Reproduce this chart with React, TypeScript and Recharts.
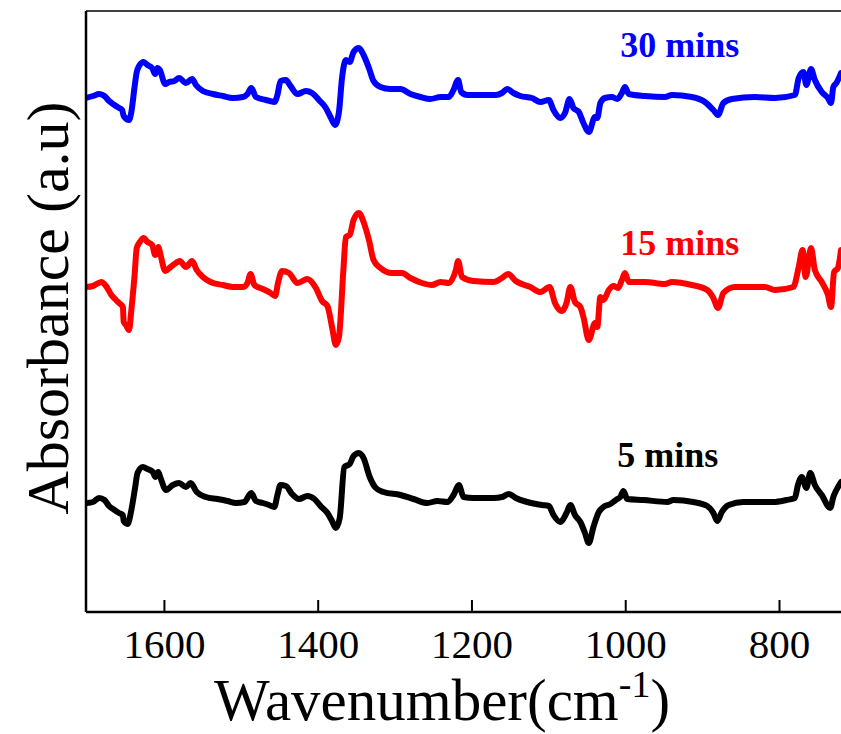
import React from 'react';
import { LineChart, Line, XAxis, YAxis, ReferenceLine, ReferenceDot } from 'recharts';

const FONT = "'Liberation Serif', 'Times New Roman', serif";

// 30 min spectrum (blue)
const wn30 = [1702,1693,1685,1678,1672,1665,1659,1655,1653,1646,1643,1639,1636,1633,1627,1622,1616,1612,1609,1606,1599,1594,1587,1581,1572,1564,1559,1550,1537,1524,1511,1498,1492,1487,1481,1468,1457,1453,1449,1442,1436,1427,1416,1408,1399,1390,1384,1378,1373,1369,1364,1359,1354,1347,1341,1334,1328,1319,1306,1293,1280,1267,1254,1241,1230,1224,1218,1214,1206,1189,1169,1161,1154,1146,1137,1122,1111,1100,1094,1085,1079,1073,1068,1061,1055,1048,1040,1037,1033,1027,1018,1011,1005,1001,996,975,949,940,914,897,886,880,873,862,832,806,780,775,769,765,759,754,745,737,733,730,726,720];
const abs30 = [5.14,5.16,5.18,5.16,5.11,5.07,5.04,5.02,4.96,4.92,5.00,5.24,5.40,5.46,5.50,5.47,5.44,5.38,5.44,5.42,5.28,5.30,5.31,5.34,5.29,5.33,5.27,5.21,5.18,5.16,5.14,5.15,5.18,5.24,5.15,5.12,5.10,5.17,5.31,5.32,5.26,5.18,5.21,5.19,5.12,5.04,4.95,4.87,5.00,5.34,5.52,5.50,5.60,5.64,5.57,5.44,5.31,5.25,5.23,5.23,5.18,5.15,5.13,5.15,5.15,5.22,5.32,5.20,5.17,5.17,5.17,5.19,5.23,5.19,5.16,5.14,5.10,5.12,5.02,4.94,4.99,5.13,5.04,5.00,4.89,4.80,4.95,4.94,5.09,5.14,5.15,5.13,5.19,5.25,5.18,5.16,5.15,5.17,5.15,5.10,5.02,4.97,5.09,5.13,5.15,5.14,5.17,5.34,5.40,5.27,5.43,5.32,5.20,5.14,5.09,5.25,5.29,5.39];

// 15 min spectrum (red)
const wn15 = [1702,1693,1682,1676,1669,1663,1659,1654,1653,1650,1646,1643,1639,1636,1632,1627,1622,1616,1612,1608,1605,1599,1592,1585,1580,1572,1564,1558,1550,1540,1524,1511,1498,1492,1488,1483,1472,1462,1456,1452,1447,1438,1427,1414,1403,1395,1388,1382,1377,1373,1367,1364,1359,1354,1347,1341,1334,1328,1319,1304,1291,1280,1265,1252,1241,1230,1221,1218,1213,1198,1172,1161,1153,1143,1124,1111,1099,1092,1083,1077,1072,1066,1059,1055,1048,1040,1037,1033,1029,1022,1016,1010,1005,1001,996,975,949,940,914,894,886,880,873,858,819,806,782,775,770,766,759,754,745,737,733,729,724,720];
const abs15 = [3.25,3.26,3.30,3.26,3.17,3.12,3.09,3.05,2.90,2.87,2.82,3.02,3.35,3.64,3.70,3.74,3.70,3.67,3.57,3.65,3.57,3.41,3.45,3.49,3.51,3.45,3.51,3.42,3.35,3.30,3.27,3.25,3.25,3.29,3.38,3.27,3.23,3.19,3.16,3.30,3.41,3.39,3.29,3.33,3.24,3.11,3.06,2.85,2.67,2.75,3.45,3.75,3.77,3.92,3.99,3.90,3.72,3.52,3.44,3.39,3.39,3.34,3.29,3.27,3.30,3.29,3.42,3.51,3.35,3.31,3.30,3.34,3.38,3.31,3.25,3.20,3.25,3.09,3.01,3.09,3.25,3.10,3.05,2.95,2.72,2.89,2.85,3.15,3.12,3.22,3.26,3.24,3.32,3.39,3.30,3.30,3.28,3.30,3.27,3.22,3.14,3.04,3.19,3.25,3.25,3.22,3.25,3.45,3.62,3.35,3.64,3.42,3.30,3.17,3.05,3.40,3.44,3.62];

// 5 min spectrum (black)
const wn5 = [1701,1693,1685,1678,1672,1665,1659,1654,1653,1648,1643,1638,1635,1628,1622,1615,1612,1608,1605,1598,1589,1581,1572,1566,1558,1546,1531,1518,1507,1496,1487,1481,1472,1464,1457,1453,1449,1442,1434,1425,1414,1405,1397,1388,1382,1377,1372,1366,1359,1354,1347,1341,1333,1325,1315,1293,1276,1258,1245,1232,1224,1217,1211,1198,1172,1161,1152,1143,1128,1109,1100,1094,1085,1077,1072,1066,1059,1053,1048,1042,1035,1029,1020,1011,1007,1003,998,977,946,938,912,894,886,881,875,866,847,808,791,780,776,771,765,760,754,745,734,730,726,720];
const abs5 = [1.09,1.10,1.14,1.12,1.06,1.02,0.99,0.97,0.91,0.88,1.02,1.25,1.39,1.45,1.43,1.40,1.35,1.40,1.34,1.22,1.27,1.29,1.25,1.29,1.20,1.15,1.13,1.11,1.09,1.10,1.19,1.11,1.09,1.07,1.05,1.17,1.27,1.26,1.18,1.13,1.16,1.13,1.06,0.99,0.91,0.84,0.94,1.45,1.48,1.56,1.59,1.54,1.35,1.24,1.20,1.17,1.13,1.09,1.11,1.10,1.17,1.27,1.15,1.14,1.14,1.15,1.18,1.14,1.10,1.07,1.06,0.97,0.90,0.99,1.07,0.97,0.90,0.79,0.69,0.85,1.00,1.05,1.08,1.13,1.15,1.21,1.13,1.12,1.10,1.12,1.10,1.06,0.99,0.91,1.00,1.07,1.10,1.10,1.12,1.14,1.27,1.35,1.24,1.39,1.27,1.17,1.04,1.15,1.22,1.30];

const xTicks = [1600, 1400, 1200, 1000, 800];
const seriesNames = ['30 mins', '15 mins', '5 mins'];
const seriesColors = ['#0000ff', '#ff0000', '#000000'];

const toPoints = (xs: number[], ys: number[]) => xs.map((wn, i) => ({ wn, abs: ys[i] }));

const series = [
    { data: toPoints(wn30, abs30), labelAt: { wn: 1007, abs: 5.55 } },
    { data: toPoints(wn15, abs15), labelAt: { wn: 1007, abs: 3.57 } },
    { data: toPoints(wn5, abs5), labelAt: { wn: 1011, abs: 1.45 } },
];

const WnTick = (props: any) => {
    const { x, y, payload } = props;
    return (
        <g>
            <line x1={x} x2={x} y1={y} y2={y - 12} stroke="#000" strokeWidth={2} />
            <text x={x} y={y + 46} textAnchor="middle" fontFamily={FONT} fontSize={41} fill="#000">
                {payload.value}
            </text>
        </g>
    );
};

export default function App() {
    return (
        <div style={{ position: 'absolute', left: 0, top: 0, width: 841, height: 734, background: '#fff' }}>
            <LineChart width={841} height={734} margin={{ top: 11, right: 0, bottom: 0, left: 0 }}>
                <XAxis
                    dataKey="wn"
                    type="number"
                    domain={[720, 1702]}
                    reversed
                    allowDataOverflow
                    ticks={xTicks}
                    height={122}
                    tickSize={0}
                    tickMargin={0}
                    tickLine={false}
                    axisLine={{ stroke: '#000', strokeWidth: 2.5 }}
                    tick={<WnTick />}
                    label={{
                        content: () => (
                            <text x={442} y={720} textAnchor="middle" fontFamily={FONT} fontSize={59} fill="#000">
                                <tspan>Wavenumber(cm</tspan>
                                <tspan dy={-23} fontSize={38}>-1</tspan>
                                <tspan dy={23}>)</tspan>
                            </text>
                        ),
                    }}
                />
                <YAxis
                    type="number"
                    domain={[0, 6.01]}
                    allowDataOverflow
                    width={86}
                    tick={false}
                    tickLine={false}
                    axisLine={{ stroke: '#000', strokeWidth: 2.5 }}
                    label={{
                        content: () => (
                            <text
                                transform="translate(68,308) rotate(-90)"
                                textAnchor="middle"
                                fontFamily={FONT}
                                fontSize={60}
                                fill="#000"
                            >
                                Absorbance (a.u)
                            </text>
                        ),
                    }}
                />
                <ReferenceLine y={6.01} stroke="#000" strokeWidth={1.5} />
                {series.map((s, i) => (
                    <Line
                        key={seriesNames[i]}
                        data={s.data}
                        dataKey="abs"
                        type="monotone"
                        stroke={seriesColors[i]}
                        strokeWidth={6}
                        strokeLinejoin="round"
                        strokeLinecap="round"
                        dot={false}
                        isAnimationActive={false}
                    />
                ))}
                {series.map((s, i) => (
                    <ReferenceDot
                        key={'lbl' + i}
                        x={s.labelAt.wn}
                        y={s.labelAt.abs}
                        r={0}
                        shape={(p: any) => (
                            <text x={p.cx} y={p.cy} fontFamily={FONT} fontSize={36} fontWeight="bold" fill={seriesColors[i]}>
                                {seriesNames[i]}
                            </text>
                        )}
                    />
                ))}
            </LineChart>
        </div>
    );
}
